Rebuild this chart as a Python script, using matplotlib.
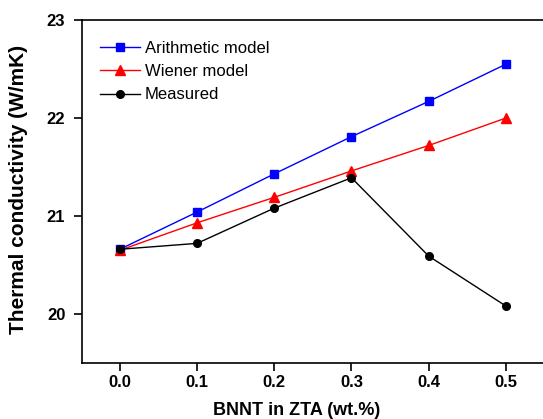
import matplotlib
matplotlib.use('Agg')
import matplotlib.pyplot as plt

plt.rcParams['font.family'] = ['Liberation Sans', 'DejaVu Sans']

# data
bnnt = [0.0, 0.1, 0.2, 0.3, 0.4, 0.5]
arithmetic = [20.66, 21.04, 21.43, 21.81, 22.17, 22.55]
wiener = [20.65, 20.93, 21.19, 21.46, 21.72, 22.00]
measured = [20.66, 20.72, 21.08, 21.39, 20.59, 20.08]

fig = plt.figure(figsize=(5.43, 4.19), dpi=100)
ax = fig.add_axes([0.151, 0.134, 0.849, 0.818])

ax.plot(bnnt, arithmetic, color='#0000ff', marker='s', markersize=5.5, lw=1, label='Arithmetic model')
ax.plot(bnnt, wiener, color='#ff0000', marker='^', markersize=7, lw=1, label='Wiener model')
ax.plot(bnnt, measured, color='black', marker='o', markersize=5.5, lw=1, label='Measured')

ax.set_xlim(-0.049, 0.548)
ax.set_ylim(19.5, 23)
ax.set_xticks(bnnt)
ax.set_xticklabels(['%.1f' % v for v in bnnt])
ax.set_yticks([20, 21, 22, 23])
ax.spines['right'].set_visible(False)
for s in ['left', 'bottom', 'top']:
    ax.spines[s].set_linewidth(1.2)
ax.tick_params(direction='out', length=6, width=1.2, labelsize=12, top=False, right=False)
ax.tick_params(axis='y', pad=6)
ax.tick_params(axis='x', pad=3)
for lbl in ax.get_xticklabels() + ax.get_yticklabels():
    lbl.set_fontweight('bold')

ax.set_xlabel('BNNT in ZTA (wt.%)', fontsize=13, fontweight='bold')
ax.set_ylabel('Thermal conductivity (W/mK)', fontsize=15, fontweight='bold')
ax.xaxis.set_label_coords(0.466, -0.114)
ax.yaxis.set_label_coords(-0.118, 0.505)

ax.legend(loc='upper left', bbox_to_anchor=(0.038, 0.94), frameon=False, fontsize=12,
          handlelength=2.4, handletextpad=0.3, labelspacing=0.5, borderpad=0, borderaxespad=0)

fig.savefig('out.png', dpi=100)
